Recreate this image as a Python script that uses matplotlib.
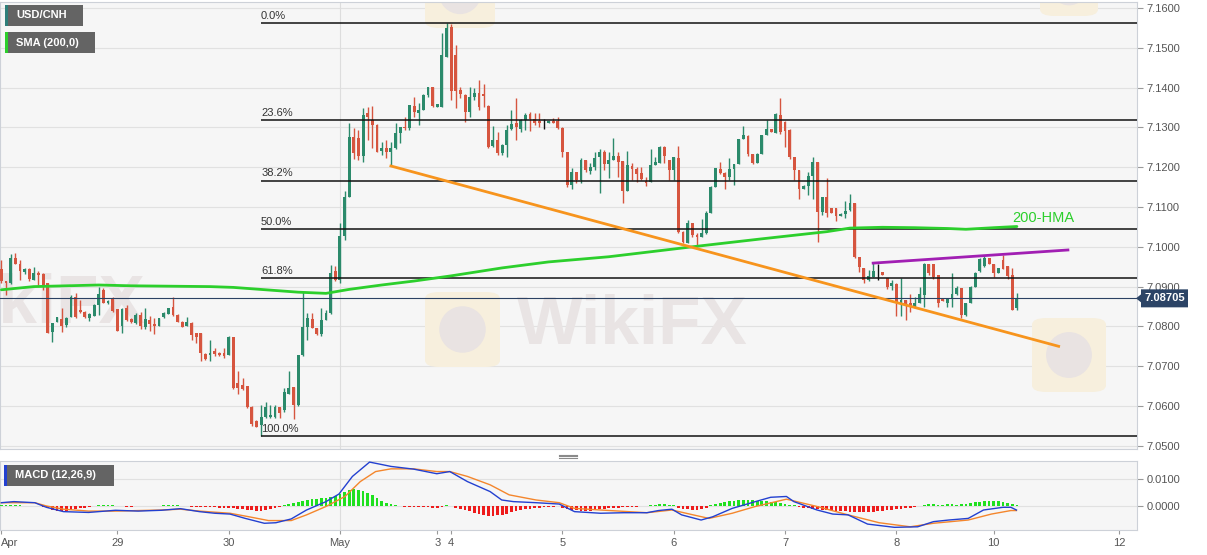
import numpy as np
import matplotlib
matplotlib.use("Agg")
import matplotlib.pyplot as plt
from matplotlib.patches import Rectangle, Polygon, FancyBboxPatch, Ellipse
from matplotlib.lines import Line2D
from matplotlib.transforms import blended_transform_factory

W, H = 1207, 555

# ---------------- data (hourly USD/CNH candles) ----------------
opens = [7.0944, 7.0913, 7.0909, 7.0971, 7.0958, 7.0936, 7.0944, 7.0917, 7.0935, 7.0932,
         7.0909, 7.0787, 7.0812, 7.0818, 7.0804, 7.0823, 7.0875, 7.0841, 7.0837, 7.0820,
         7.0826, 7.0854, 7.0892, 7.0858, 7.0871, 7.0843, 7.0801, 7.0846, 7.0818, 7.0809,
         7.0829, 7.0798, 7.0816, 7.0807, 7.0801, 7.0823, 7.0831, 7.0849, 7.0829, 7.0812,
         7.0801, 7.0809, 7.0783, 7.0783, 7.0731, 7.0729, 7.0737, 7.0734, 7.0734, 7.0729,
         7.0774, 7.0657, 7.0654, 7.0650, 7.0598, 7.0563, 7.0552, 7.0572, 7.0572, 7.0572,
         7.0597, 7.0590, 7.0631, 7.0647, 7.0602, 7.0727, 7.0799, 7.0818, 7.0795, 7.0780,
         7.0816, 7.0833, 7.0938, 7.0917, 7.1026, 7.1126, 7.1277, 7.1273, 7.1228, 7.1336,
         7.1319, 7.1306, 7.1241, 7.1247, 7.1239, 7.1247, 7.1285, 7.1302, 7.1298, 7.1354,
         7.1336, 7.1344, 7.1382, 7.1401, 7.1351, 7.1352, 7.1478, 7.1553, 7.1482, 7.1394,
         7.1382, 7.1339, 7.1376, 7.1386, 7.1384, 7.1354, 7.1253, 7.1268, 7.1235, 7.1256,
         7.1295, 7.1312, 7.1295, 7.1319, 7.1333, 7.1321, 7.1315, 7.1309, 7.1310, 7.1315,
         7.1315, 7.1299, 7.1239, 7.1156, 7.1189, 7.1168, 7.1218, 7.1191, 7.1201, 7.1226,
         7.1239, 7.1208, 7.1218, 7.1228, 7.1216, 7.1141, 7.1203, 7.1195, 7.1185, 7.1166,
         7.1164, 7.1206, 7.1211, 7.1251, 7.1218, 7.1193, 7.1223, 7.1038, 7.1009, 7.1059,
         7.1030, 7.1025, 7.1034, 7.1084, 7.1151, 7.1195, 7.1186, 7.1175, 7.1195, 7.1208,
         7.1270, 7.1279, 7.1233, 7.1210, 7.1233, 7.1281, 7.1295, 7.1287, 7.1331, 7.1314,
         7.1294, 7.1225, 7.1192, 7.1145, 7.1153, 7.1178, 7.1214, 7.1088, 7.1126, 7.1097,
         7.1097, 7.1078, 7.1083, 7.1092, 7.1111, 7.0975, 7.0946, 7.0917, 7.0925, 7.0937,
         7.0936, 7.0921, 7.0902, 7.0907, 7.0858, 7.0866, 7.0858, 7.0849, 7.0858, 7.0879,
         7.0957, 7.0957, 7.0929, 7.0868, 7.0858, 7.0868, 7.0882, 7.0896, 7.0829, 7.0858,
         7.0900, 7.0938, 7.0951, 7.0972, 7.0957, 7.0935, 7.0967, 7.0951, 7.0929, 7.0845]
highs = [7.0967, 7.0915, 7.0982, 7.0984, 7.0967, 7.0947, 7.0947, 7.0949, 7.0940, 7.0934,
         7.0909, 7.0809, 7.0824, 7.0846, 7.0823, 7.0879, 7.0885, 7.0866, 7.0838, 7.0834,
         7.0856, 7.0899, 7.0896, 7.0866, 7.0873, 7.0843, 7.0846, 7.0854, 7.0821, 7.0833,
         7.0837, 7.0846, 7.0826, 7.0820, 7.0822, 7.0836, 7.0846, 7.0873, 7.0830, 7.0813,
         7.0823, 7.0811, 7.0783, 7.0783, 7.0732, 7.0766, 7.0745, 7.0736, 7.0745, 7.0775,
         7.0774, 7.0689, 7.0670, 7.0651, 7.0600, 7.0565, 7.0602, 7.0611, 7.0602, 7.0602,
         7.0597, 7.0645, 7.0687, 7.0648, 7.0729, 7.0887, 7.0833, 7.0833, 7.0796, 7.0846,
         7.0841, 7.0955, 7.0951, 7.1059, 7.1141, 7.1312, 7.1298, 7.1294, 7.1349, 7.1351,
         7.1354, 7.1308, 7.1264, 7.1268, 7.1264, 7.1310, 7.1302, 7.1327, 7.1356, 7.1377,
         7.1361, 7.1383, 7.1402, 7.1402, 7.1360, 7.1536, 7.1563, 7.1560, 7.1507, 7.1402,
         7.1383, 7.1402, 7.1398, 7.1418, 7.1409, 7.1356, 7.1304, 7.1289, 7.1257, 7.1306,
         7.1344, 7.1373, 7.1320, 7.1336, 7.1339, 7.1336, 7.1336, 7.1320, 7.1317, 7.1323,
         7.1327, 7.1300, 7.1239, 7.1198, 7.1189, 7.1223, 7.1219, 7.1210, 7.1239, 7.1245,
         7.1243, 7.1239, 7.1273, 7.1239, 7.1216, 7.1241, 7.1211, 7.1200, 7.1200, 7.1176,
         7.1246, 7.1225, 7.1253, 7.1252, 7.1219, 7.1226, 7.1253, 7.1039, 7.1067, 7.1060,
         7.1034, 7.1069, 7.1091, 7.1153, 7.1197, 7.1214, 7.1187, 7.1223, 7.1209, 7.1271,
         7.1304, 7.1280, 7.1234, 7.1236, 7.1282, 7.1319, 7.1296, 7.1335, 7.1373, 7.1315,
         7.1295, 7.1226, 7.1192, 7.1154, 7.1189, 7.1226, 7.1214, 7.1126, 7.1172, 7.1098,
         7.1098, 7.1084, 7.1114, 7.1133, 7.1111, 7.0975, 7.0946, 7.0942, 7.0959, 7.0956,
         7.0937, 7.0922, 7.0917, 7.0908, 7.0921, 7.0867, 7.0882, 7.0875, 7.0900, 7.0959,
         7.0958, 7.0958, 7.0930, 7.0869, 7.0872, 7.0934, 7.0902, 7.0897, 7.0859, 7.0902,
         7.0936, 7.0972, 7.0976, 7.0972, 7.0958, 7.0947, 7.0979, 7.0951, 7.0946, 7.0884]
lows = [7.0909, 7.0879, 7.0907, 7.0957, 7.0917, 7.0932, 7.0913, 7.0917, 7.0905, 7.0892,
        7.0783, 7.0762, 7.0811, 7.0787, 7.0798, 7.0823, 7.0820, 7.0834, 7.0822, 7.0814,
        7.0826, 7.0829, 7.0859, 7.0856, 7.0836, 7.0788, 7.0783, 7.0814, 7.0808, 7.0807,
        7.0793, 7.0793, 7.0789, 7.0782, 7.0801, 7.0822, 7.0831, 7.0827, 7.0811, 7.0799,
        7.0800, 7.0766, 7.0758, 7.0714, 7.0716, 7.0714, 7.0725, 7.0726, 7.0720, 7.0728,
        7.0643, 7.0629, 7.0640, 7.0594, 7.0550, 7.0547, 7.0525, 7.0571, 7.0570, 7.0571,
        7.0570, 7.0586, 7.0630, 7.0567, 7.0601, 7.0725, 7.0766, 7.0795, 7.0778, 7.0775,
        7.0816, 7.0832, 7.0913, 7.0909, 7.1018, 7.1126, 7.1220, 7.1218, 7.1213, 7.1268,
        7.1248, 7.1238, 7.1231, 7.1223, 7.1202, 7.1246, 7.1260, 7.1294, 7.1294, 7.1327,
        7.1306, 7.1344, 7.1377, 7.1352, 7.1350, 7.1352, 7.1477, 7.1369, 7.1348, 7.1373,
        7.1314, 7.1327, 7.1369, 7.1344, 7.1352, 7.1247, 7.1251, 7.1231, 7.1231, 7.1225,
        7.1294, 7.1268, 7.1289, 7.1294, 7.1292, 7.1306, 7.1302, 7.1295, 7.1310, 7.1310,
        7.1295, 7.1226, 7.1151, 7.1145, 7.1160, 7.1160, 7.1189, 7.1184, 7.1193, 7.1135,
        7.1193, 7.1172, 7.1217, 7.1176, 7.1111, 7.1140, 7.1168, 7.1164, 7.1168, 7.1153,
        7.1163, 7.1205, 7.1211, 7.1210, 7.1168, 7.1168, 7.1034, 7.1010, 7.1009, 7.1025,
        7.1000, 7.1024, 7.1033, 7.1084, 7.1150, 7.1184, 7.1145, 7.1168, 7.1156, 7.1207,
        7.1270, 7.1228, 7.1208, 7.1210, 7.1232, 7.1280, 7.1288, 7.1286, 7.1284, 7.1251,
        7.1220, 7.1168, 7.1120, 7.1145, 7.1130, 7.1120, 7.1011, 7.1080, 7.1076, 7.1085,
        7.1066, 7.1077, 7.1072, 7.1091, 7.0971, 7.0937, 7.0910, 7.0913, 7.0924, 7.0917,
        7.0928, 7.0894, 7.0892, 7.0825, 7.0825, 7.0816, 7.0837, 7.0845, 7.0858, 7.0850,
        7.0929, 7.0919, 7.0850, 7.0864, 7.0850, 7.0850, 7.0880, 7.0820, 7.0826, 7.0858,
        7.0899, 7.0937, 7.0950, 7.0957, 7.0925, 7.0935, 7.0943, 7.0919, 7.0840, 7.0841]
closes = [7.0913, 7.0909, 7.0971, 7.0958, 7.0938, 7.0944, 7.0919, 7.0934, 7.0929, 7.0905,
          7.0784, 7.0809, 7.0823, 7.0801, 7.0820, 7.0875, 7.0823, 7.0837, 7.0823, 7.0831,
          7.0854, 7.0882, 7.0860, 7.0865, 7.0838, 7.0789, 7.0843, 7.0816, 7.0811, 7.0829,
          7.0801, 7.0818, 7.0806, 7.0801, 7.0820, 7.0833, 7.0846, 7.0829, 7.0812, 7.0799,
          7.0812, 7.0778, 7.0774, 7.0733, 7.0718, 7.0734, 7.0731, 7.0729, 7.0726, 7.0774,
          7.0645, 7.0645, 7.0642, 7.0598, 7.0555, 7.0548, 7.0573, 7.0598, 7.0577, 7.0597,
          7.0582, 7.0634, 7.0645, 7.0602, 7.0729, 7.0799, 7.0820, 7.0795, 7.0780, 7.0816,
          7.0833, 7.0935, 7.0917, 7.1026, 7.1126, 7.1277, 7.1235, 7.1228, 7.1331, 7.1326,
          7.1306, 7.1239, 7.1247, 7.1239, 7.1247, 7.1285, 7.1302, 7.1298, 7.1356, 7.1339,
          7.1344, 7.1382, 7.1401, 7.1354, 7.1359, 7.1482, 7.1549, 7.1392, 7.1392, 7.1384,
          7.1339, 7.1377, 7.1386, 7.1352, 7.1379, 7.1251, 7.1268, 7.1235, 7.1256, 7.1294,
          7.1308, 7.1302, 7.1319, 7.1331, 7.1321, 7.1310, 7.1312, 7.1309, 7.1317, 7.1310,
          7.1298, 7.1239, 7.1156, 7.1189, 7.1168, 7.1218, 7.1193, 7.1201, 7.1222, 7.1239,
          7.1208, 7.1218, 7.1228, 7.1214, 7.1141, 7.1206, 7.1195, 7.1183, 7.1170, 7.1161,
          7.1206, 7.1214, 7.1250, 7.1228, 7.1193, 7.1225, 7.1038, 7.1011, 7.1059, 7.1030,
          7.1025, 7.1034, 7.1084, 7.1151, 7.1197, 7.1186, 7.1175, 7.1195, 7.1208, 7.1270,
          7.1281, 7.1233, 7.1210, 7.1233, 7.1281, 7.1295, 7.1289, 7.1334, 7.1289, 7.1292,
          7.1225, 7.1192, 7.1145, 7.1153, 7.1177, 7.1214, 7.1088, 7.1126, 7.1084, 7.1086,
          7.1078, 7.1083, 7.1091, 7.1111, 7.0975, 7.0948, 7.0917, 7.0927, 7.0938, 7.0937,
          7.0929, 7.0900, 7.0909, 7.0858, 7.0866, 7.0854, 7.0849, 7.0859, 7.0882, 7.0958,
          7.0934, 7.0925, 7.0858, 7.0865, 7.0871, 7.0882, 7.0896, 7.0829, 7.0858, 7.0900,
          7.0935, 7.0969, 7.0972, 7.0958, 7.0934, 7.0946, 7.0944, 7.0926, 7.0841, 7.08705]

# 200-hour moving average (read at sample candles)
hma_idx = [0, 7, 14, 21, 28, 45, 50, 57, 64, 70, 75, 82, 89, 97, 108, 118, 131, 149,
           164, 178, 183, 190, 197, 204, 208, 214, 219]
hma_vals = [7.0892, 7.0900, 7.0902, 7.0904, 7.0902, 7.0900, 7.0898, 7.0892, 7.0886, 7.0883,
            7.0893, 7.0904, 7.0914, 7.0927, 7.0947, 7.0962, 7.0975, 7.1000, 7.1020, 7.1038,
            7.1047, 7.1049, 7.1048, 7.1046, 7.1044, 7.1048, 7.1051]

# MACD (12,26,9)
macd_hist = [0.0003, 0.0003, 0.0004, 0.0003, 0.0002, 0.0001,
             0.0001, 0.0000, -0.0001, -0.0003,
             -0.0008, -0.0014, -0.0018, -0.0019, -0.0017, -0.0014, -0.0010, -0.0008, -0.0006, -0.0004, -0.0002,
             0.0002, 0.0003, 0.0003, 0.0002, 0.0001,
             -0.0002, -0.0003, -0.0003, -0.0002, -0.0002, -0.0001, -0.0001, 0.0000, 0.0001,
             0.0003, 0.0004, 0.0003, 0.0002, 0.0000,
             -0.0002, -0.0003, -0.0004, -0.0004, -0.0005, -0.0005, -0.0005, -0.0006, -0.0007, -0.0008,
             -0.0009, -0.0010, -0.0012, -0.0014, -0.0016, -0.0017, -0.0017, -0.0015, -0.0012, -0.0008, -0.0004,
             0.0003, 0.0006, 0.0010, 0.0014, 0.0018, 0.0021, 0.0024, 0.0027, 0.0029, 0.0031, 0.0034, 0.0038,
             0.0043, 0.0050, 0.0058, 0.0062, 0.0060, 0.0055, 0.0048, 0.0040, 0.0030, 0.0020, 0.0012, 0.0006, 0.0002,
             -0.0002, -0.0003, -0.0003, -0.0003, -0.0003, -0.0004, -0.0005, -0.0006, -0.0008, -0.0004,
             0.0002, 0.0001,
             -0.0008, -0.0012, -0.0016, -0.0020, -0.0025, -0.0029, -0.0033, -0.0036, -0.0037, -0.0035, -0.0032,
             -0.0028, -0.0024, -0.0020, -0.0016, -0.0013, -0.0010, -0.0008, -0.0006, -0.0005, -0.0004, -0.0003, -0.0002,
             -0.0008, -0.0011, -0.0014, -0.0016, -0.0018, -0.0018, -0.0017, -0.0015, -0.0012,
             -0.0010, -0.0008, -0.0007, -0.0006, -0.0005, -0.0004, -0.0003, -0.0003, -0.0002, -0.0001,
             0.0003, 0.0005, 0.0006, 0.0006, 0.0004, 0.0002,
             -0.0006, -0.0010, -0.0013, -0.0015, -0.0015, -0.0012, -0.0007,
             0.0004, 0.0008, 0.0012, 0.0015, 0.0018, 0.0020, 0.0021, 0.0022, 0.0022, 0.0021, 0.0020, 0.0019,
             0.0017, 0.0015, 0.0013, 0.0011, 0.0008, 0.0005, 0.0002,
             -0.0004, -0.0006, -0.0008, -0.0010, -0.0012, -0.0014, -0.0015, -0.0016, -0.0017, -0.0018, -0.0020,
             -0.0021, -0.0022, -0.0023, -0.0023, -0.0022, -0.0021, -0.0020, -0.0018, -0.0016, -0.0014, -0.0012,
             -0.0010, -0.0008, -0.0006, -0.0004, -0.0002,
             0.0004, 0.0006, 0.0006, 0.0005, 0.0005, 0.0006, 0.0006, 0.0005, 0.0006, 0.0008, 0.0010,
             0.0013, 0.0016, 0.0019, 0.0020, 0.0019, 0.0017, 0.0014, 0.0010, 0.0006, 0.0002]
macd_idx = [0, 2.7, 7.2, 9.7, 13.4, 18.8, 24.6, 29.5, 34.5, 38.6, 42.7, 46, 49.3, 52.6, 56.7,
            59.2, 62.5, 65.8, 70, 72.8, 75.7, 79.4, 82.3, 84, 88.9, 93.9, 96.7, 100.5, 105.4,
            107.9, 110.4, 115.3, 120.3, 123.6, 129.2, 134.2, 139.2, 141.7, 144.6, 146.7, 150.9,
            153.4, 157.6, 162.6, 165.9, 169.3, 170.9, 175.9, 179.3, 182.6, 186.8, 192.6, 197.6,
            201, 204.3, 208.5, 211.8, 216, 217.7, 218.9]
macd_line = [0.0012, 0.0016, 0.0012, -0.0005, -0.0021, -0.0024, -0.0016, -0.0019, -0.0016,
             -0.0010, -0.0021, -0.0027, -0.0030, -0.0046, -0.0064, -0.0062, -0.0048, -0.0015,
             0.0016, 0.0044, 0.0109, 0.0162, 0.0152, 0.0146, 0.0136, 0.0119, 0.0127, 0.0090,
             0.0053, 0.0022, 0.0016, 0.0012, 0.0007, -0.0021, -0.0027, -0.0025, -0.0025, -0.0017,
             -0.0012, -0.0033, -0.0052, -0.0040, -0.0009, 0.0016, 0.0032, 0.0035, 0.0016, -0.0015,
             -0.0030, -0.0033, -0.0067, -0.0079, -0.0077, -0.0058, -0.0052, -0.0046, -0.0015,
             -0.0005, -0.0005, -0.0015]
signal_idx = [0, 7.2, 9.7, 13.4, 18.8, 24.6, 34.5, 38.6, 42.7, 49.3, 53.4, 57.6, 62.5, 65.8,
              70, 74.1, 77.4, 80.7, 84, 88.9, 93.9, 96.7, 100.5, 105.4, 109.5, 115.3, 120.3,
              123.6, 129.2, 139.2, 144.6, 149.2, 152.6, 157.6, 162.6, 169.3, 175.9, 182.6,
              189.3, 196, 201, 208.5, 213.5, 217.7, 218.9]
signal_line = [0.0012, 0.0012, 0.0000, -0.0012, -0.0019, -0.0019, -0.0015, -0.0012, -0.0019,
               -0.0027, -0.0040, -0.0054, -0.0054, -0.0033, -0.0002, 0.0035, 0.0090, 0.0127,
               0.0137, 0.0137, 0.0127, 0.0127, 0.0109, 0.0078, 0.0041, 0.0022, 0.0012, -0.0009,
               -0.0015, -0.0025, -0.0015, -0.0033, -0.0046, -0.0027, -0.0002, 0.0025, -0.0002,
               -0.0033, -0.0062, -0.0077, -0.0064, -0.0052, -0.0030, -0.0017, -0.0017]

tick_idx = [0, 25, 49, 73, 94, 97, 121, 145, 169, 193, 214, 241]
tick_labels = ["Apr", "29", "30", "May", "3", "4", "5", "6", "7", "8", "10", "12"]
price_ticks = [7.05, 7.06, 7.07, 7.08, 7.09, 7.10, 7.11, 7.12, 7.13, 7.14, 7.15, 7.16]

fib_high, fib_low = 7.1563, 7.0525
fib_pcts = [0.0, 23.6, 38.2, 50.0, 61.8, 100.0]
fib_start = 56
trend_idx, trend_vals = [84, 228], [7.1203, 7.0750]
resist_idx, resist_vals = [188, 230], [7.0959, 7.0992]
last_price = 7.08705

# ---------------- styling ----------------
plt.rcParams['font.family'] = ['Liberation Sans', 'DejaVu Sans']
GREEN = '#2b8a6b'
RED = '#d6553f'
BG = '#f6f6f6'
GRID = '#e1e1e1'
SPINE = '#cdd1d8'
TXT = '#555555'

fig = plt.figure(figsize=(W / 100, H / 100), dpi=100)
fig.patch.set_facecolor('white')

def fx(px):
    return px / W

def fy(py):
    return 1 - py / H

XMIN, XMAX = -0.3, 244.9
YMIN, YMAX = 7.0492, 7.1615

# ---------------- main price panel ----------------
ax = fig.add_axes([0, fy(449), fx(1137), (449 - 2) / H])
ax.set_facecolor(BG)
ax.set_xlim(XMIN, XMAX)
ax.set_ylim(YMIN, YMAX)
ax.set_axisbelow(True)
for s in ax.spines.values():
    s.set_color(SPINE)
    s.set_linewidth(0.8)
ax.yaxis.tick_right()
ax.set_yticks(price_ticks)
ax.set_yticklabels([f"{v:.4f}" for v in price_ticks])
ax.tick_params(axis='y', length=4, color='#999999', labelcolor=TXT, labelsize=8, pad=3)
ax.set_xticks([])
ax.grid(axis='y', color=GRID, lw=0.8)
ax.axvline(73, color='#dddddd', lw=0.8, zorder=0.6)

# watermarks (faint)
def wm_logo(axis, x0, y0, x1, y1):
    kw = dict(transform=fig.transFigure, zorder=1)
    p = FancyBboxPatch((fx(x0), fy(y1)), fx(x1) - fx(x0), fy(y0) - fy(y1),
                       boxstyle="round,pad=0,rounding_size=0.012", facecolor='#f7efdd',
                       edgecolor='none', **kw)
    e = Ellipse(((fx(x0) + fx(x1)) / 2, (fy(y0) + fy(y1)) / 2),
                (x1 - x0) * 0.62 / W, (y1 - y0) * 0.62 / H,
                facecolor='#e9e3e2', edgecolor='none', **kw)
    axis.add_patch(p)
    axis.add_patch(e)

wm_logo(ax, 425, 292, 500, 367)
wm_logo(ax, 1032, 318, 1106, 392)
wm_logo(ax, 425, -45, 495, 28)
wm_logo(ax, 1040, -40, 1098, 16)
ax.text(fx(632), fy(326), "WikiFX", transform=fig.transFigure, fontsize=50, fontweight='bold',
        color='#e9e4e4', ha='center', va='center', zorder=1, clip_on=True)
ax.text(fx(30), fy(305), "WikiFX", transform=fig.transFigure, fontsize=50, fontweight='bold',
        color='#e9e4e4', ha='center', va='center', zorder=1, clip_on=True)

# candles
o = np.array(opens); h = np.array(highs); l = np.array(lows); c = np.array(closes)
n = min(len(o), len(h), len(l), len(c))
o, h, l, c = o[:n], h[:n], l[:n], c[:n]
idx = np.arange(n)
cols = [GREEN if cc > oo else (RED if cc < oo else '#111111') for oo, cc in zip(o, c)]
ax.vlines(idx, l, h, colors=cols, lw=1.0, zorder=3)
body = np.maximum(np.abs(c - o), 0.00005)
widths = [1.0 if col == '#111111' else 0.62 for col in cols]
ax.bar(idx, body, bottom=np.minimum(o, c), width=widths, color=cols, lw=0, zorder=4)

# fibonacci retracement
for pct in fib_pcts:
    lvl = fib_high - pct / 100.0 * (fib_high - fib_low)
    ax.hlines(lvl, fib_start, XMAX, color='#111111', lw=1.1, zorder=5)
    ax.annotate(f"{pct:.1f}%", (fib_start, lvl), xytext=(0, 1.5), textcoords='offset points',
                fontsize=8, color='#333333', ha='left', va='bottom', zorder=6)

# 200-HMA
ax.plot(hma_idx, hma_vals, color='#2ccf2c', lw=2.0, zorder=6, solid_capstyle='round')
ax.text(218, 7.1072, "200-HMA", color='#2ccf2c', fontsize=10.5, ha='left', va='center', zorder=7)

# trend lines
ax.plot(trend_idx, trend_vals, color='#f7941d', lw=2.0, zorder=6)
ax.plot(resist_idx, resist_vals, color='#a11fb3', lw=2.0, zorder=6)

# last price line + tag
ax.axhline(last_price, color='#2b4163', lw=0.8, zorder=5)
bt = blended_transform_factory(fig.transFigure, ax.transData)
px_per_price = 447.0 / (YMAX - YMIN)
dh = 9.0 / px_per_price
da = 4.0 / px_per_price
tag = Polygon([(fx(1136), last_price), (fx(1141), last_price + da),
               (fx(1141), last_price + dh), (fx(1188), last_price + dh),
               (fx(1188), last_price - dh), (fx(1141), last_price - dh),
               (fx(1141), last_price - da)], closed=True, transform=bt,
              facecolor='#2c4466', edgecolor='none', zorder=10)
fig.add_artist(tag)
fig.text(fx(1164.5), last_price, f"{last_price:.5f}", transform=bt, color='white',
         fontsize=8, fontweight='bold', ha='center', va='center', zorder=11)

# ---------------- MACD panel ----------------
mx = fig.add_axes([0, fy(529.5), fx(1137), (529.5 - 461) / H])
mx.set_facecolor(BG)
mx.set_xlim(XMIN, XMAX)
mx.set_ylim(-0.0087, 0.0166)
mx.set_axisbelow(True)
for s in mx.spines.values():
    s.set_color(SPINE)
    s.set_linewidth(0.8)
mx.yaxis.tick_right()
mx.set_yticks([0.0, 0.01])
mx.set_yticklabels(["0.0000", "0.0100"])
mx.tick_params(axis='y', length=4, color='#999999', labelcolor=TXT, labelsize=8, pad=3)
mx.set_xticks(tick_idx)
mx.set_xticklabels(tick_labels)
mx.tick_params(axis='x', length=3, color='#999999', labelcolor=TXT, labelsize=8, pad=3)
mx.get_xticklabels()[0].set_ha('left')
mx.grid(axis='y', color=GRID, lw=0.8)
mx.axvline(73, color='#dddddd', lw=0.8, zorder=0.6)

hist = np.array(macd_hist[:n])
hcols = ['#1fe01f' if v >= 0 else '#ee1b1b' for v in hist]
mx.bar(np.arange(len(hist)), hist, width=0.6, color=hcols, lw=0, zorder=3)
mx.plot(signal_idx, signal_line, color='#f4862c', lw=1.0, zorder=4)
mx.plot(macd_idx, macd_line, color='#2340d0', lw=1.0, zorder=5)

# ---------------- label boxes & separator ----------------
def label_box(x0, y0, x1, y1, text, stripe):
    fig.add_artist(Rectangle((fx(x0), fy(y1)), fx(x1) - fx(x0), (y1 - y0) / H,
                             transform=fig.transFigure, facecolor='#646464',
                             edgecolor='none', zorder=12))
    fig.add_artist(Rectangle((fx(x0), fy(y1)), 3 / W, (y1 - y0) / H,
                             transform=fig.transFigure, facecolor=stripe,
                             edgecolor='none', zorder=13))
    fig.text(fx(x0 + 11), fy((y0 + y1) / 2), text, color='white', fontsize=8,
             fontweight='bold', ha='left', va='center', zorder=14)

label_box(5, 5, 83, 26, "USD/CNH", '#2e7f7a')
label_box(5, 32, 95, 53, "SMA (200,0)", '#2ccf2c')
label_box(4, 465, 114, 486, "MACD (12,26,9)", '#2340d0')

for yy in (454.5, 456, 457.5):
    fig.add_artist(Line2D([fx(559), fx(577)], [fy(yy), fy(yy)], transform=fig.transFigure,
                          color='#8a8a8a', lw=0.8))

fig.savefig("out.png", dpi=100, facecolor='white')
